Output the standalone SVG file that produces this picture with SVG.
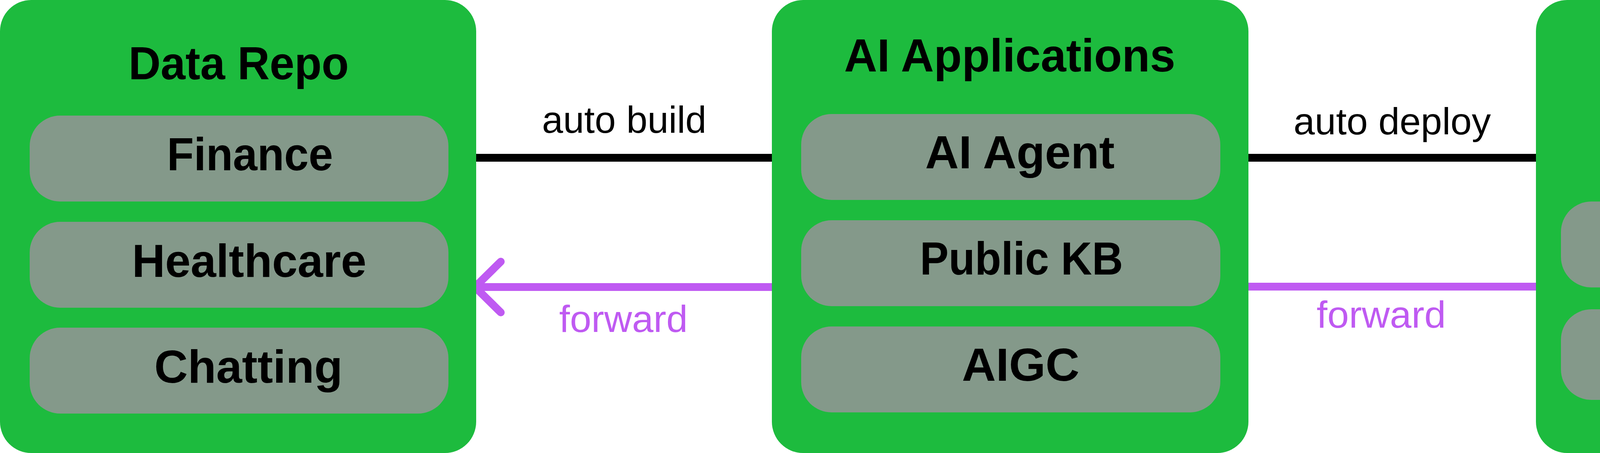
<svg xmlns="http://www.w3.org/2000/svg" width="6904" height="1160" viewBox="0 0 6904 1160">
<style>
.box{fill:#1DBB3E}
.sub{fill:#84998A}
.t{font-family:"Liberation Sans",Arial,sans-serif;font-weight:bold;font-size:118px;fill:#000;text-anchor:middle}
.l{font-family:"Liberation Sans",Arial,sans-serif;font-size:96px;text-anchor:middle}
.lk{fill:#000}
.lp{fill:#BF5AF2}
.k{stroke:#000;stroke-width:20;fill:none}
.p{stroke:#BF5AF2;stroke-width:20;fill:none}
.head{stroke-linecap:round;stroke-linejoin:miter}
</style>
<rect width="6904" height="1160" fill="#FFFFFF"/>
<g id="connectors">
  <path class="k" d="M1219,404 H1976"/>
  <text class="l lk" x="1598" y="340" textLength="421" lengthAdjust="spacingAndGlyphs">auto build</text>
  <path class="p" d="M1976,735 H1219"/>
  <path class="p head" d="M1282,670 L1216,735 L1282,800"/>
  <text class="l lp" x="1596" y="850" textLength="329" lengthAdjust="spacingAndGlyphs">forward</text>
  <path class="k" d="M3196,404 H3932"/>
  <text class="l lk" x="3564" y="344" textLength="505" lengthAdjust="spacingAndGlyphs">auto deploy</text>
  <path class="p" d="M3196,734 H3932"/>
  <text class="l lp" x="3536" y="839" textLength="331" lengthAdjust="spacingAndGlyphs">forward</text>
  <path class="k" d="M5672,404 H6364"/>
  <path class="k head" d="M6303,340 L6367,404 L6303,468"/>
  <text class="l lk" x="6018" y="352" textLength="223" lengthAdjust="spacingAndGlyphs">serve</text>
  <path class="p" d="M5672,732 H6364"/>
  <text class="l lp" x="6021" y="823" textLength="150" lengthAdjust="spacingAndGlyphs">pay</text>
</g>
<g id="data-repo">
  <rect class="box" x="0" y="0" width="1219" height="1160" rx="80"/>
  <text class="t" x="611" y="203" textLength="564" lengthAdjust="spacingAndGlyphs">Data Repo</text>
  <g id="finance">
    <rect class="sub" x="76" y="296" width="1072" height="220" rx="78"/>
    <text class="t" x="640" y="436" textLength="425" lengthAdjust="spacingAndGlyphs">Finance</text>
  </g>
  <g id="healthcare">
    <rect class="sub" x="76" y="568" width="1072" height="220" rx="78"/>
    <text class="t" x="638" y="709" textLength="600" lengthAdjust="spacingAndGlyphs">Healthcare</text>
  </g>
  <g id="chatting">
    <rect class="sub" x="76" y="839" width="1072" height="220" rx="78"/>
    <text class="t" x="636" y="980" textLength="482" lengthAdjust="spacingAndGlyphs">Chatting</text>
  </g>
</g>
<g id="ai-applications">
  <rect class="box" x="1976" y="0" width="1220" height="1160" rx="80"/>
  <text class="t" x="2585" y="183" textLength="848" lengthAdjust="spacingAndGlyphs">AI Applications</text>
  <g id="ai-agent">
    <rect class="sub" x="2051" y="292" width="1073" height="220" rx="78"/>
    <text class="t" x="2611" y="431" textLength="485" lengthAdjust="spacingAndGlyphs">AI Agent</text>
  </g>
  <g id="public-kb">
    <rect class="sub" x="2051" y="564" width="1073" height="220" rx="78"/>
    <text class="t" x="2615" y="703" textLength="520" lengthAdjust="spacingAndGlyphs">Public KB</text>
  </g>
  <g id="aigc">
    <rect class="sub" x="2051" y="836" width="1073" height="220" rx="78"/>
    <text class="t" x="2613" y="975" textLength="301" lengthAdjust="spacingAndGlyphs">AIGC</text>
  </g>
</g>
<g id="hosting-platform">
  <rect class="box" x="3932" y="0" width="1740" height="1160" rx="80"/>
  <text class="t" x="4827" y="255" textLength="789" lengthAdjust="spacingAndGlyphs">AI Application</text>
  <text class="t" x="4827" y="407" textLength="935" lengthAdjust="spacingAndGlyphs">Hosting Platform</text>
  <g id="agent-marketplace">
    <rect class="sub" x="3996" y="516" width="1613" height="220" rx="78"/>
    <text class="t" x="4826" y="662" textLength="1067" lengthAdjust="spacingAndGlyphs">Agent Marketplace</text>
  </g>
  <g id="inference-network">
    <rect class="sub" x="3996" y="792" width="1613" height="232" rx="78"/>
    <text class="t" x="4829" y="945" textLength="1034" lengthAdjust="spacingAndGlyphs">Inference Network</text>
  </g>
</g>
<g id="end-users">
  <rect class="box" x="6364" y="0" width="540" height="1160" rx="80"/>
  <text class="t" x="6634" y="528" textLength="195" lengthAdjust="spacingAndGlyphs">End</text>
  <text class="t" x="6636" y="681" textLength="295" lengthAdjust="spacingAndGlyphs">Users</text>
</g>
</svg>
